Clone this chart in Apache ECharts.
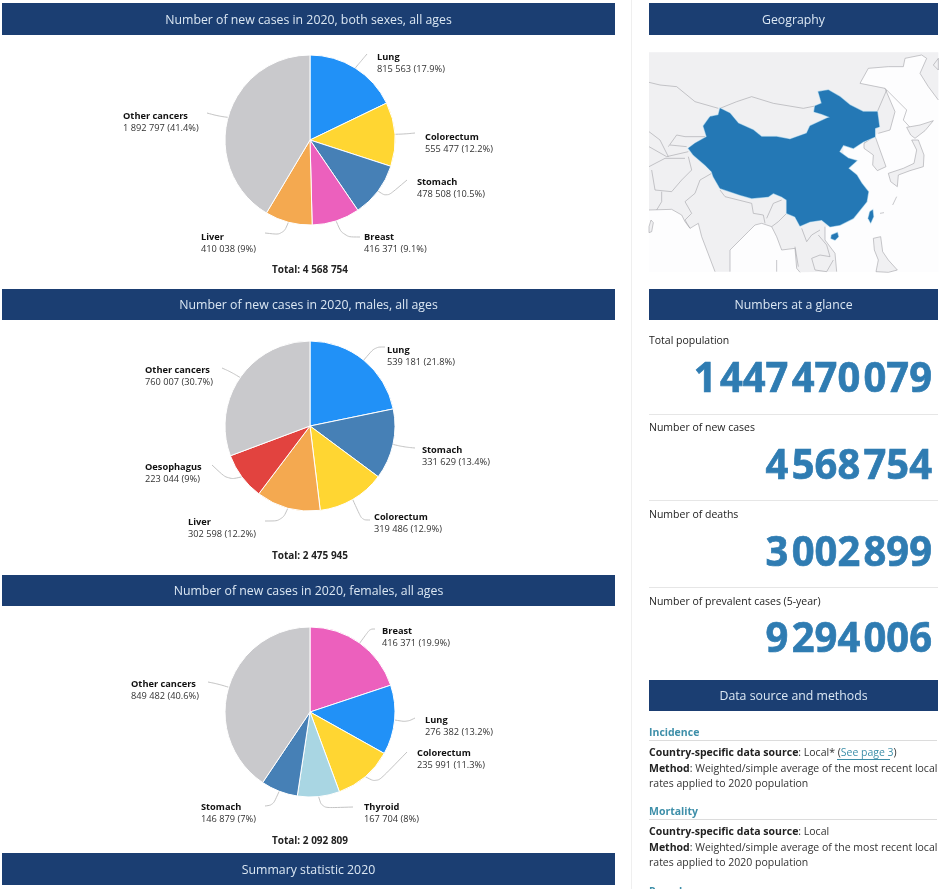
<!DOCTYPE html>
<html><head><meta charset="utf-8">
<style>html,body{margin:0;padding:0;background:#fff;overflow:hidden}#c{width:944px;height:889px}</style>
<script src="https://cdn.jsdelivr.net/npm/echarts@6/dist/echarts.min.js"></script>
</head><body><div id="c"></div>
<script>
const bothNames=['Lung','Colorectum','Stomach','Breast','Liver','Other cancers'];
const bothValues=[815563,555477,478508,416371,410038,1892797];
const bothTotal=4568754;
const maleNames=['Lung','Stomach','Colorectum','Liver','Oesophagus','Other cancers'];
const maleValues=[539181,331629,319486,302598,223044,760007];
const maleTotal=2475945;
const femaleNames=['Breast','Lung','Colorectum','Thyroid','Stomach','Other cancers'];
const femaleValues=[416371,276382,235991,167704,146879,849482];
const femaleTotal=2092809;
const glanceLabels=['Total population','Number of new cases','Number of deaths','Number of prevalent cases (5-year)'];
const glanceValues=['1 447 470 079','4 568 754','3 002 899','9 294 006'];

const FONT='"Open Sans","Noto Sans",sans-serif';
const NAVY='#1b3e72',BLUE='#2f7cb2',TEAL='#3e8fa9',INK='#222';
const colors={Lung:'#2191f7',Colorectum:'#ffd632',Stomach:'#4680b6',Breast:'#ec60bd',Liver:'#f4a950','Other cancers':'#c9c9cc',Oesophagus:'#e2433f',Thyroid:'#a9d6e3'};
const fmt=n=>String(n).replace(/\B(?=(\d{3})+$)/g,' ');

// label anchor (left, top of the name line) for each pie
const labelPos=[
 {Lung:[377,51],Colorectum:[425,131],Stomach:[417,176],Breast:[364,231],Liver:[201,231],'Other cancers':[123,110]},
 {Lung:[387,344],Stomach:[422,444],Colorectum:[374,511],Liver:[188,516],Oesophagus:[145,461],'Other cancers':[145,364]},
 {Breast:[382,625],Lung:[425,714],Colorectum:[417,747],Thyroid:[364,801],Stomach:[201,801],'Other cancers':[131,678]}
];
// guide-line bend and end points
const lineBend=[
 {Lung:[362,60],Colorectum:[405,134],Stomach:[387,197],Breast:[343,237],Liver:[283,235],'Other cancers':[218,116]},
 {Lung:[375,347],Stomach:[404,447],Colorectum:[362,520],Liver:[282,521],Oesophagus:[228,480],'Other cancers':[231,372]},
 {Breast:[370,629],Lung:[407,722],Colorectum:[377,783],Thyroid:[322,808],Stomach:[273,805],'Other cancers':[218,684]}
];
const lineEnd=[
 {Lung:[367,54],Colorectum:[415,133],Stomach:[407,180],Breast:[360,237],Liver:[265,233],'Other cancers':[207,113]},
 {Lung:[385,347],Stomach:[415,448],Colorectum:[370,520],Liver:[265,521],Oesophagus:[212,465],'Other cancers':[222,368]},
 {Breast:[375,629],Lung:[415,718],Colorectum:[407,752],Thyroid:[353,807],Stomach:[265,806],'Other cancers':[208,682]}
];

function pie(names,values,total,cy,idx){
 return {type:'pie',center:[310,cy],radius:[0,85],startAngle:90,clockwise:true,animation:false,silent:true,
  data:names.map((n,i)=>({name:n,value:values[i],itemStyle:{color:colors[n]}})),
  itemStyle:{borderColor:'#fff',borderWidth:1},
  label:{show:true,fontFamily:FONT,fontSize:9.25,lineHeight:12,color:INK,
   formatter:p=>`{b|${p.name}}\n{v|${fmt(p.value)} (${parseFloat((p.value/total*100).toFixed(1))}%)}`,
   rich:{b:{fontFamily:FONT,fontSize:9.25,fontWeight:700,color:'#111',lineHeight:12},v:{fontFamily:FONT,fontSize:9.25,color:'#333',lineHeight:12}}},
  labelLine:{show:true,length:9,length2:8,smooth:0.35,lineStyle:{color:'#c4c4c4',width:1}},
  labelLayout:p=>{const n=names[p.dataIndex];const a=labelPos[idx][n];
   const pts=p.labelLinePoints;
   return {x:a[0],y:a[1],align:'left',verticalAlign:'top',labelLinePoints:pts?[pts[0],lineBend[idx][n],lineEnd[idx][n]]:undefined};}
 };
}

const g=[];
function rect(x,y,w,h,fill){g.push({type:'rect',silent:true,shape:{x,y,width:w,height:h},style:{fill}});}
function text(x,y,t,o){g.push({type:'text',silent:true,x,y,style:Object.assign({text:t,fontFamily:FONT,fontSize:10.5,fill:INK,textAlign:'left',textVerticalAlign:'middle'},o||{})});}
function header(x,y,w,h,t){rect(x,y,w,h,NAVY);text(x+w/2,y+h/2+1,t,{fill:'#dbe7f3',fontSize:12.3,textAlign:'center'});}

rect(631,0,1,889,'#efefef');
header(2,3,613,32,'Number of new cases in 2020, both sexes, all ages');
header(2,289,613,31,'Number of new cases in 2020, males, all ages');
header(2,575,613,31,'Number of new cases in 2020, females, all ages');
header(2,853,613,32,'Summary statistic 2020');
header(649,3,289,32,'Geography');
header(649,289,289,31,'Numbers at a glance');
header(649,680,289,31,'Data source and methods');
[[bothTotal,270.5],[maleTotal,556.5],[femaleTotal,841.5]].forEach(([t,y])=>text(310,y,'Total: '+fmt(t),{fontSize:10,fontWeight:700,textAlign:'center',fill:'#222'}));

// Numbers at a glance
const glanceY=[341,428,515,602],numY=[380,467,554,640];
glanceLabels.forEach((l,i)=>{
 text(649,glanceY[i],l,{fontSize:10.5});
 if(i<3) rect(649,[414,500,587][i],289,1,'#e6e6e6');
 let right=932;
 const parts=glanceValues[i].split(' ').reverse();
 parts.forEach(p=>{
  g.push({type:'text',silent:true,x:right,y:numY[i],scaleX:0.95,
   style:{text:p,fontFamily:'"Open Sans",sans-serif',fontWeight:700,fontSize:42,fill:BLUE,stroke:BLUE,lineWidth:0.7,textAlign:'right',textVerticalAlign:'middle'}});
  right-=p.length*22.6+4;
 });
});

// Data source
const RICH={b:{fontFamily:FONT,fontSize:10.5,fontWeight:700,fill:'#222'},n:{fontFamily:FONT,fontSize:10.5,fill:'#333'},l:{fontFamily:FONT,fontSize:10.5,fill:TEAL}};
function srcBlock(y,title,line1,line2a,line2b){
 text(649,y,title,{fontSize:10.5,fontWeight:700,fill:TEAL});
 rect(649,y+7,288,1,'#dcdcdc');
 text(649,y+20.5,line1,{rich:RICH});
 text(649,y+36,'{b|Method}{n|: '+line2a+'}',{rich:RICH});
 text(649,y+51.5,line2b,{fontSize:10.5,fill:'#333'});
}
srcBlock(733,'Incidence','{b|Country-specific data source}{n|: Local* (}{l|See page 3}{n|)}','Weighted/simple average of the most recent local','rates applied to 2020 population');
rect(837,759,53,1,TEAL);
srcBlock(812,'Mortality','{b|Country-specific data source}{n|: Local}','Weighted/simple average of the most recent local','rates applied to 2020 population');
text(649,892,'Prevalence',{fontSize:10.5,fontWeight:700,fill:TEAL});

// Geography panel: hand-traced decorative backdrop (coordinates in a 3x sketch space)
const chinaShape=[[240,205],[270,220],[295,250],[340,270],[365,290],[410,290],[450,298],[500,280],[510,258],[560,235],[570,232],[545,222],[522,215],[525,198],[545,190],[535,155],[565,150],[600,170],[630,195],[670,215],[712,215],[718,260],[705,265],[705,290],[670,305],[640,325],[610,315],[598,335],[625,355],[650,362],[625,385],[650,405],[665,430],[685,455],[680,485],[660,510],[640,535],[600,555],[570,560],[545,540],[510,545],[480,558],[465,530],[440,520],[440,480],[425,470],[400,460],[385,470],[335,475],[300,465],[240,445],[220,410],[215,395],[195,375],[160,345],[145,325],[165,310],[200,290],[190,258],[210,230],[235,225]];
const taiwanShape=[[690,515],[698,510],[700,530],[692,548],[685,535]];
const hainanShape=[[575,585],[592,578],[595,590],[585,600],[573,595]];
const landFill=[[27,37],[895,37],[895,180],[865,140],[840,100],[860,55],[845,45],[795,55],[790,80],[745,80],[685,85],[660,130],[735,145],[750,180],[765,215],[750,270],[715,280],[700,290],[670,300],[640,320],[610,320],[610,340],[600,555],[555,560],[555,600],[585,640],[590,695],[480,697],[470,685],[465,625],[425,630],[410,590],[395,560],[365,550],[345,555],[325,575],[270,630],[270,695],[225,695],[185,590],[175,550],[150,565],[135,545],[125,525],[95,508],[27,510]];
const coasts=[
 [[895,180],[865,140],[840,100],[860,55],[845,45],[795,55],[790,80],[745,80],[685,85],[660,130],[735,145],[750,180],[765,215],[750,270],[715,280]],
 [[735,145],[770,180],[800,210]],
 [[555,560],[555,600],[585,640],[590,695]],
 [[480,697],[470,685],[465,625],[425,630],[410,590],[395,560],[365,550],[345,555],[325,575],[270,630],[270,695]],
 [[225,695],[185,590],[175,550],[150,565],[135,545],[125,525],[95,508],[27,510]]
];
const islandShapes=[
 [[705,288],[720,330],[738,380],[712,392],[698,375],[700,345],[672,325],[672,310]],
 [[745,400],[790,385],[822,370],[830,330],[815,300],[835,300],[852,345],[850,380],[810,392],[775,405],[772,440],[752,425]],
 [[800,262],[840,255],[880,242],[855,272],[825,295],[812,285]],
 [[27,560],[33,540],[40,548],[35,575],[27,578]],
 [[700,595],[722,590],[728,635],[745,660],[772,690],[745,697],[708,695],[715,660],[703,630]],
 [[895,55],[880,75],[895,90]]
];
const smallLines=[[[410,660],[410,695]],[[720,520],[732,518]],[[770,470],[758,495]],[[800,210],[790,240],[810,262]]];
const borderLines=[
 [[27,127],[60,135],[110,140],[165,185],[235,205]],
 [[240,205],[290,185],[335,170],[400,190],[490,205],[525,198]],
 [[712,215],[740,150]],
 [[27,275],[60,300],[75,330],[85,350]],
 [[85,320],[110,285],[135,290],[195,290]],
 [[90,315],[140,320]],
 [[27,320],[80,350],[145,335]],
 [[27,380],[75,355],[135,355]],
 [[35,390],[45,450],[95,455],[125,420],[155,390],[145,350]],
 [[65,455],[65,485],[50,510]],
 [[180,420],[165,460],[135,485],[155,520],[135,540],[150,565]],
 [[180,420],[215,400]],
 [[240,450],[255,470],[335,490]],
 [[335,490],[340,520],[370,525],[375,550]],
 [[380,535],[400,490],[425,480]],
 [[440,520],[415,545],[395,560]],
 [[485,565],[500,605],[515,585],[540,570]],
 [[465,620],[475,680]],
 [[515,655],[540,645],[570,650],[560,615],[535,585]],
 [[515,655],[525,690],[560,695],[580,660]],
 [[672,310],[705,288]]
];
const LAND='#f0f0f2',EDGE='#a2a2a8';
const mapKids=[];
mapKids.push({type:'rect',silent:true,shape:{x:27,y:37,width:868,height:660},style:{fill:'#fdfdfe'}});
mapKids.push({type:'polygon',silent:true,shape:{points:landFill},style:{fill:LAND}});
coasts.concat(borderLines,smallLines).forEach(s=>mapKids.push({type:'polyline',silent:true,shape:{points:s},style:{fill:null,stroke:EDGE,lineWidth:1.8}}));
islandShapes.forEach(s=>mapKids.push({type:'polygon',silent:true,shape:{points:s},style:{fill:LAND,stroke:EDGE,lineWidth:1.8}}));
[chinaShape,taiwanShape,hainanShape].forEach(s=>mapKids.push({type:'polygon',silent:true,shape:{points:s},style:{fill:'#2478b5',stroke:'#cfe8f4',lineWidth:5}}));
[chinaShape,taiwanShape,hainanShape].forEach(s=>mapKids.push({type:'polygon',silent:true,shape:{points:s},style:{fill:'#2478b5',stroke:'#2478b5',lineWidth:1}}));
g.push({type:'group',silent:true,x:640,y:40,scaleX:1/3,scaleY:1/3,children:mapKids});

const chart=echarts.init(document.getElementById('c'),null,{renderer:'canvas'});
chart.setOption({animation:false,backgroundColor:'#fff',
 graphic:{elements:g},
 series:[pie(bothNames,bothValues,bothTotal,140,0),pie(maleNames,maleValues,maleTotal,426,1),pie(femaleNames,femaleValues,femaleTotal,712,2)]});
</script></body></html>
